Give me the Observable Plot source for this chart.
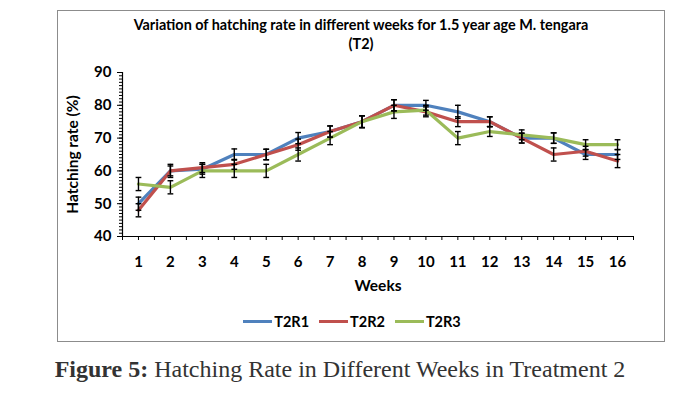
<!DOCTYPE html>
<html>
<head>
<meta charset="utf-8">
<script src="https://cdn.jsdelivr.net/npm/d3@7"></script>
<script src="https://cdn.jsdelivr.net/npm/@observablehq/plot@0.6"></script>
<style>
  html, body { margin: 0; padding: 0; background: #fff; }
  #wrap { position: relative; width: 680px; height: 398px; overflow: hidden; font-family: Lato, "Open Sans", sans-serif; }
  #frame { position: absolute; left: 57px; top: 10px; width: 608px; height: 332px; border: 1px solid #8c8c8c; box-sizing: border-box; }
  #chart { position: absolute; left: 0; top: 0; }
  #title { position: absolute; left: 57px; width: 608px; top: 15px; text-align: center; font-weight: bold; font-size: 14.4px; line-height: 19px; color: #000; }
  #legend { position: absolute; left: 12px; width: 680px; top: 313px; display: flex; justify-content: center; align-items: center; font-weight: bold; font-size: 14.5px; color: #000; }
  #legend .item { display: flex; align-items: center; margin: 0 5px; }
  #legend .sw { width: 29px; height: 3px; margin-right: 2px; }
  #caption { position: absolute; left: 0; width: 680px; top: 356px; text-align: center; font-family: "Liberation Serif", "Times New Roman", serif; font-size: 24px; color: #333; }
</style>
</head>
<body>
<div id="wrap">
  <div id="frame"></div>
  <div id="chart"></div>
  <div id="title">Variation of hatching rate in different weeks for 1.5 year age M. tengara<br>(T2)</div>
  <div id="legend"></div>
  <div id="caption"><b>Figure 5:</b> Hatching Rate in Different Weeks in Treatment 2</div>
</div>
<script>
const weeks = [1, 2, 3, 4, 5, 6, 7, 8, 9, 10, 11, 12, 13, 14, 15, 16];
const seriesNames = ["T2R1", "T2R2", "T2R3"];
const seriesColors = ["#4F81BD", "#C0504D", "#9BBB59"];
const t2r1 = [50, 60, 60.5, 65, 65, 70, 72, 75, 80, 80, 78, 75, 70, 70, 65, 65];
const t2r2 = [48, 60, 61, 62, 65, 68, 72, 75, 80, 78, 75, 75, 70, 65, 66, 63];
const t2r3 = [56, 55, 60, 60, 60, 65, 70, 75, 78, 78.5, 70, 72, 71, 70, 68, 68];
const err1 = [2, 1.5, 1.5, 1.7, 1.6, 1.7, 1.7, 1.8, 1.7, 1.5, 2, 1.5, 1.5, 1.6, 1.5, 1.5];
const err2 = [2, 2, 1.5, 1.5, 1.6, 1.7, 1.7, 1.8, 1.7, 1.5, 1.5, 1.5, 1.5, 2, 1.5, 2];
const err3 = [2, 2, 2, 2, 2, 2, 2, 1.8, 2, 1.5, 2, 1.5, 1.5, 1.6, 1.5, 1.5];
const yMajor = [40, 50, 60, 70, 80, 90];
const xLabel = "Weeks";
const yLabel = "Hatching rate (%)";

const vals = [t2r1, t2r2, t2r3];
const errs = [err1, err2, err3];
const data = [];
seriesNames.forEach((s, i) => weeks.forEach((w, j) => data.push({series: s, week: w, value: vals[i][j], err: errs[i][j]})));

const capHalf = 0.09;
const font = "Lato, 'Open Sans', sans-serif";

const plot = Plot.plot({
  width: 680,
  height: 398,
  marginLeft: 122,
  marginRight: 47,
  marginTop: 72,
  marginBottom: 162,
  style: {fontFamily: font, fontSize: "15px", fontWeight: "bold", color: "#000", background: "transparent"},
  x: {domain: [0.5, 16.5]},
  y: {domain: [40, 90]},
  color: {domain: seriesNames, range: seriesColors},
  marks: [
    Plot.axisY({ticks: d3.range(40, 91, 1), tickSize: 3, tickFormat: () => "", label: null, stroke: "#000"}),
    Plot.axisY({ticks: yMajor, tickSize: 5, tickPadding: 6, label: null, fontSize: 15, fontWeight: "bold"}),
    Plot.axisX({ticks: d3.range(0.5, 16.51, 0.5), tickSize: 4, tickFormat: () => "", label: null}),
    Plot.axisX({ticks: weeks, tickSize: 0, tickPadding: 20, label: null, fontSize: 15, fontWeight: "bold"}),
    Plot.ruleX([0.5], {stroke: "#000", strokeWidth: 1.2}),
    Plot.ruleY([40], {stroke: "#000", strokeWidth: 1.2}),
    Plot.line(data, {x: "week", y: "value", z: "series", stroke: "series", strokeWidth: 3.2, strokeLinejoin: "round"}),
    Plot.ruleX(data, {x: "week", y1: d => d.value - d.err, y2: d => d.value + d.err, stroke: "#000", strokeWidth: 1.4}),
    Plot.link(data, {x1: d => d.week - capHalf, x2: d => d.week + capHalf, y1: d => d.value - d.err, y2: d => d.value - d.err, stroke: "#000", strokeWidth: 1.4}),
    Plot.link(data, {x1: d => d.week - capHalf, x2: d => d.week + capHalf, y1: d => d.value + d.err, y2: d => d.value + d.err, stroke: "#000", strokeWidth: 1.4}),
    Plot.text([xLabel], {frameAnchor: "bottom", dy: 54, fontSize: 15.5, fontWeight: "bold", fill: "#000"}),
    Plot.text([yLabel], {frameAnchor: "left", dx: -49, rotate: -90, textAnchor: "middle", fontSize: 15.5, fontWeight: "bold", fill: "#000"})
  ]
});
document.getElementById("chart").appendChild(plot);

const legend = document.getElementById("legend");
seriesNames.forEach((s, i) => {
  const it = document.createElement("div");
  it.className = "item";
  const sw = document.createElement("div");
  sw.className = "sw";
  sw.style.background = seriesColors[i];
  const tx = document.createElement("span");
  tx.textContent = s;
  it.appendChild(sw);
  it.appendChild(tx);
  legend.appendChild(it);
});
</script>
</body>
</html>
